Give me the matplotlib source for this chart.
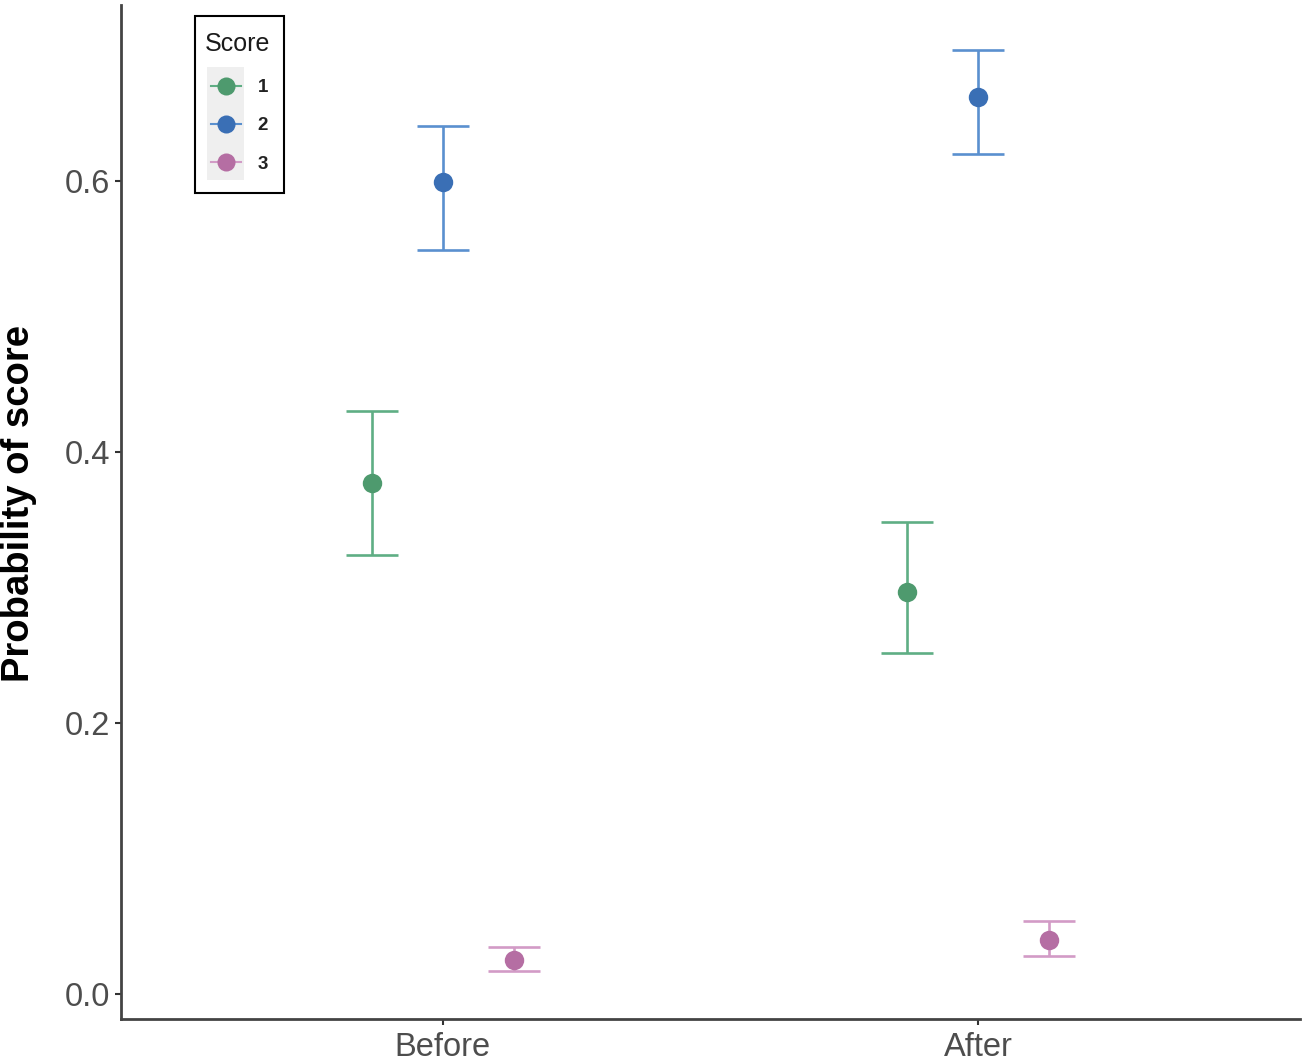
import matplotlib
matplotlib.use("Agg")
import matplotlib.pyplot as plt
from matplotlib.patches import Rectangle
from matplotlib.lines import Line2D
import numpy as np

plt.rcParams['font.family'] = ['Liberation Sans', 'DejaVu Sans']

categories = ["Before", "After"]
scores = ["1", "2", "3"]
prob = {
    "1": [0.377, 0.297],
    "2": [0.599, 0.662],
    "3": [0.025, 0.040],
}
lower = {
    "1": [0.324, 0.252],
    "2": [0.549, 0.620],
    "3": [0.017, 0.028],
}
upper = {
    "1": [0.430, 0.348],
    "2": [0.641, 0.697],
    "3": [0.035, 0.054],
}
point_colors = {"1": "#4e9a6e", "2": "#3a6fb5", "3": "#b56ea3"}
line_colors = {"1": "#5fae84", "2": "#5a90cf", "3": "#d29bc6"}

W, H = 1305, 1061
fig = plt.figure(figsize=(W / 100, H / 100), dpi=100)
ax = fig.add_axes([121 / W, 1 - 1019 / H, (1300 - 121) / W, (1019 - 5) / H])

x = np.arange(1, len(categories) + 1)
dodge = 0.1325
for i, s in enumerate(scores):
    xs = x + (i - 1) * dodge
    y = np.array(prob[s])
    yerr = np.vstack([y - np.array(lower[s]), np.array(upper[s]) - y])
    ax.errorbar(xs, y, yerr=yerr, fmt='none', ecolor=line_colors[s],
                elinewidth=1.9, capsize=18.5, capthick=1.9, zorder=2)
    ax.plot(xs, y, 'o', color=point_colors[s], markersize=14, zorder=3,
            markeredgewidth=0)

ax.set_xlim(0.4, 2.6)
ax.set_ylim(-0.0185, 0.730)
ax.set_xticks(x)
ax.set_xticklabels(categories)
ax.set_yticks([0.0, 0.2, 0.4, 0.6])
ax.set_yticklabels(["0.0", "0.2", "0.4", "0.6"])
ax.tick_params(axis='both', labelsize=23.5, colors='#333333', labelcolor='#4d4d4d',
               length=4, width=1.5, direction='out', pad=4)
ax.tick_params(axis='x', pad=5)
for side in ['top', 'right']:
    ax.spines[side].set_visible(False)
for side in ['left', 'bottom']:
    ax.spines[side].set_color('#444444')
    ax.spines[side].set_linewidth(2)

fig.text(19 / W, 1 - 503 / H, "Probability of score", rotation=90, fontsize=27.5,
         fontweight='bold', ha='center', va='center', color='black')

# Legend drawn in figure pixel coordinates
def px(xp, yp):
    return xp / W, 1 - yp / H

T = fig.transFigure
fig.patches.append(Rectangle(px(195, 193), 89 / W, 177 / H, transform=T,
                             facecolor='white', edgecolor='black', linewidth=1.5, zorder=5))
fig.patches.append(Rectangle(px(207, 180), 37 / W, 113 / H, transform=T,
                             facecolor='#efefef', edgecolor='none', zorder=6))
fig.text(*px(238, 44), "Score", fontsize=18, ha='center', va='center',
         color='#1a1a1a', zorder=7)
key_y = [86, 124, 162]
for s, ky in zip(scores, key_y):
    x0, y0 = px(211, ky)
    x1, _ = px(241, ky)
    fig.lines.append(Line2D([x0, x1], [y0, y0], transform=T, color=line_colors[s],
                            linewidth=1.5, zorder=7))
    xm, _ = px(226, ky)
    fig.lines.append(Line2D([xm], [y0], transform=T, marker='o', color=point_colors[s],
                            markersize=13, markeredgewidth=0, zorder=8))
    fig.text(*px(263, ky + 2), s, fontsize=13.5, ha='center', va='center',
             color='#222222', fontweight='bold', zorder=8)

fig.savefig("out.png", dpi=100)
